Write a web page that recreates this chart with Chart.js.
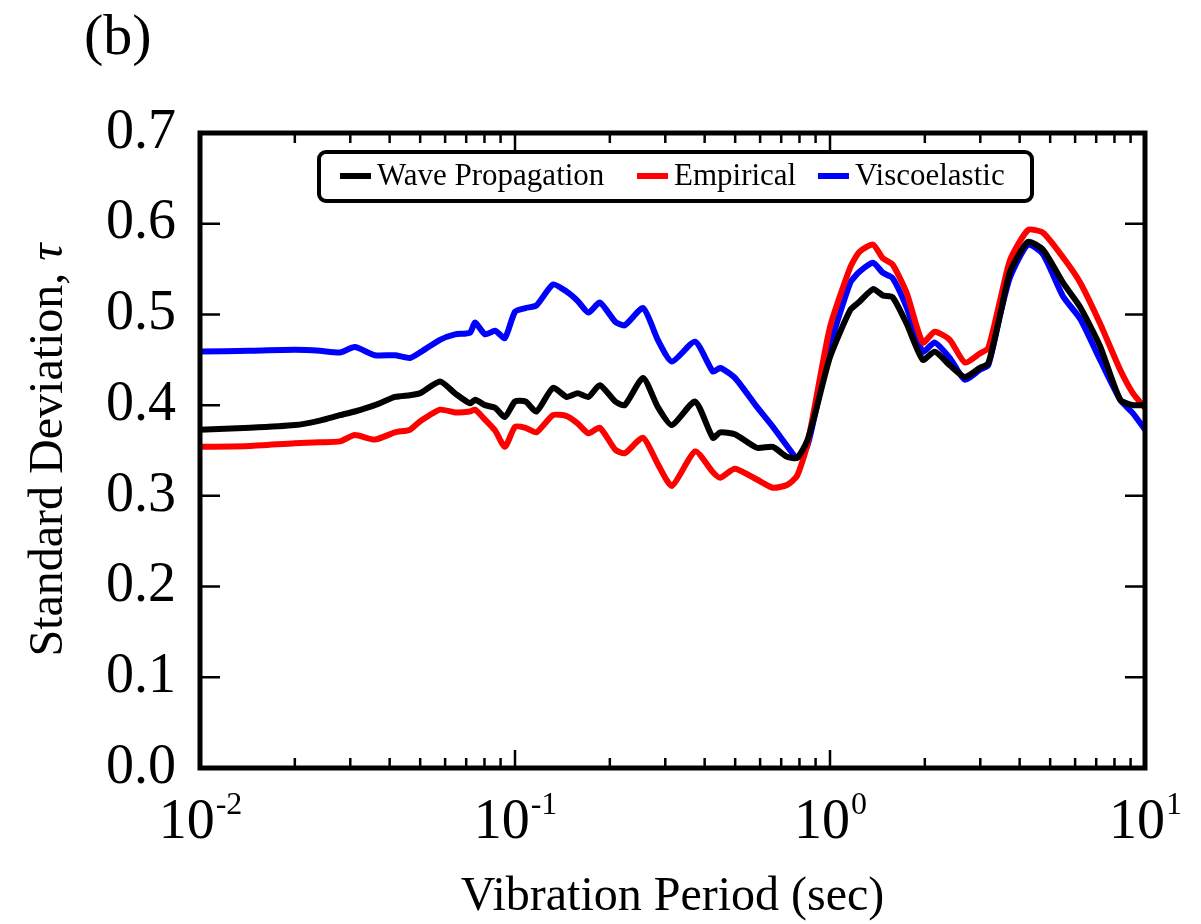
<!DOCTYPE html>
<html>
<head>
<meta charset="utf-8">
<script src="https://cdn.jsdelivr.net/npm/chart.js@4/dist/chart.umd.min.js"></script>
<style>
  body { margin: 0; background: #ffffff; }
</style>
</head>
<body>
<canvas id="grafico" width="1201" height="924"></canvas>
<script>
// periodos (sec) y desviaciones
const periodos = [
  0.01, 0.0144, 0.02, 0.024, 0.0278, 0.031, 0.0359, 0.0416, 0.0464, 0.0499,
  0.0578, 0.0645, 0.072, 0.0747, 0.0803, 0.0865, 0.0929, 0.1, 0.108, 0.117,
  0.132, 0.146, 0.158, 0.171, 0.186, 0.208, 0.223, 0.255, 0.284, 0.315,
  0.373, 0.425, 0.448, 0.499, 0.586, 0.659, 0.73, 0.786, 0.845, 0.896,
  1.0, 1.16, 1.24, 1.37, 1.47, 1.58, 1.75, 1.97, 2.15, 2.4,
  2.68, 2.99, 3.18, 3.47, 3.73, 4.25, 4.75, 5.49, 6.23, 7.2,
  8.34, 9.16, 10.0,
];
const wavePropagation = [
  0.373, 0.375, 0.378, 0.383, 0.389, 0.393, 0.4, 0.409, 0.411, 0.413,
  0.426, 0.413, 0.402, 0.406, 0.4, 0.397, 0.387, 0.404, 0.404, 0.393,
  0.419, 0.409, 0.413, 0.409, 0.422, 0.404, 0.4, 0.43, 0.398, 0.378,
  0.404, 0.364, 0.37, 0.368, 0.353, 0.354, 0.343, 0.342, 0.36, 0.39,
  0.453, 0.505, 0.514, 0.528, 0.521, 0.519, 0.49, 0.45, 0.459, 0.444,
  0.431, 0.441, 0.446, 0.5, 0.547, 0.58, 0.571, 0.535, 0.508, 0.465,
  0.406, 0.4, 0.4,
];
const empirical = [
  0.354, 0.355, 0.358, 0.359, 0.36, 0.367, 0.362, 0.37, 0.373, 0.382,
  0.395, 0.392, 0.393, 0.395, 0.384, 0.372, 0.354, 0.376, 0.375, 0.37,
  0.389, 0.388, 0.38, 0.369, 0.375, 0.351, 0.347, 0.364, 0.335, 0.311,
  0.349, 0.326, 0.32, 0.33, 0.318, 0.309, 0.312, 0.322, 0.355, 0.4,
  0.486, 0.552, 0.569, 0.577, 0.562, 0.555, 0.524, 0.469, 0.481, 0.472,
  0.447, 0.457, 0.463, 0.516, 0.56, 0.593, 0.59, 0.563, 0.535, 0.49,
  0.439, 0.413, 0.397,
];
const viscoelastic = [
  0.459, 0.46, 0.461, 0.46, 0.458, 0.464, 0.455, 0.455, 0.452, 0.458,
  0.472, 0.478, 0.48, 0.491, 0.478, 0.482, 0.474, 0.503, 0.507, 0.51,
  0.533, 0.525, 0.515, 0.502, 0.513, 0.492, 0.488, 0.507, 0.472, 0.448,
  0.47, 0.437, 0.441, 0.43, 0.398, 0.376, 0.355, 0.342, 0.354, 0.39,
  0.465, 0.535, 0.547, 0.557, 0.546, 0.54, 0.508, 0.459, 0.469, 0.452,
  0.428, 0.439, 0.444, 0.5, 0.541, 0.577, 0.566, 0.52, 0.495, 0.45,
  0.406, 0.391, 0.373,
];
const yTicks = [0, 0.1, 0.2, 0.3, 0.4, 0.5, 0.6, 0.7];
const decadas = [0.01, 0.1, 1, 10];
const exponentes = ["-2", "-1", "0", "1"];

const serif = "'Liberation Serif', 'Times New Roman', serif";
const puntos = (vals) => periodos.map((p, i) => ({ x: p, y: vals[i] }));

// marco, ticks hacia adentro, etiquetas y leyenda
const marco = {
  id: "marco",
  afterDatasetsDraw(chart) {
    const ctx = chart.ctx;
    const { left, right, top, bottom } = chart.chartArea;
    const xs = chart.scales.x;
    const ys = chart.scales.y;
    ctx.save();
    ctx.strokeStyle = "#000000";
    ctx.fillStyle = "#000000";

    // ticks
    ctx.lineWidth = 2.5;
    ctx.beginPath();
    for (const v of yTicks) {
      const py = ys.getPixelForValue(v);
      ctx.moveTo(left, py); ctx.lineTo(left + 20, py);
      ctx.moveTo(right, py); ctx.lineTo(right - 20, py);
    }
    for (let d = 0; d < decadas.length; d++) {
      const px = xs.getPixelForValue(decadas[d]);
      ctx.moveTo(px, bottom); ctx.lineTo(px, bottom - 18);
      ctx.moveTo(px, top); ctx.lineTo(px, top + 18);
      if (d < decadas.length - 1) {
        for (let k = 2; k <= 9; k++) {
          const pm = xs.getPixelForValue(decadas[d] * k);
          ctx.moveTo(pm, bottom); ctx.lineTo(pm, bottom - 10);
          ctx.moveTo(pm, top); ctx.lineTo(pm, top + 10);
        }
      }
    }
    ctx.stroke();

    // marco
    ctx.lineWidth = 5;
    ctx.strokeRect(left, top, right - left, bottom - top);

    // etiquetas eje x: 10^n
    for (let d = 0; d < decadas.length; d++) {
      const px = xs.getPixelForValue(decadas[d]);
      ctx.font = "56px " + serif;
      const wb = ctx.measureText("10").width;
      ctx.font = "32px " + serif;
      const we = ctx.measureText(exponentes[d]).width;
      const x0 = px - (wb + we) / 2;
      ctx.textBaseline = "alphabetic";
      ctx.textAlign = "left";
      ctx.font = "56px " + serif;
      ctx.fillText("10", x0, 838);
      ctx.font = "32px " + serif;
      ctx.fillText(exponentes[d], x0 + wb + 1, 814);
    }

    // titulo eje x
    ctx.font = "48px " + serif;
    ctx.textAlign = "center";
    ctx.fillText("Vibration Period (sec)", (left + right) / 2, 910);

    // titulo eje y
    ctx.save();
    ctx.translate(62, 450);
    ctx.rotate(-Math.PI / 2);
    ctx.font = "48px " + serif;
    const t1 = "Standard Deviation, ";
    const w1 = ctx.measureText(t1).width;
    ctx.font = "italic 48px " + serif;
    const w2 = ctx.measureText("τ").width;
    ctx.textAlign = "left";
    ctx.font = "48px " + serif;
    ctx.fillText(t1, -(w1 + w2) / 2, 0);
    ctx.font = "italic 48px " + serif;
    ctx.fillText("τ", -(w1 + w2) / 2 + w1, 0);
    ctx.restore();

    // (b)
    ctx.font = "58px " + serif;
    ctx.textAlign = "left";
    ctx.fillText("(b)", 84, 54);

    // leyenda
    ctx.lineWidth = 4;
    ctx.beginPath();
    ctx.roundRect(319, 152, 713, 49, 7);
    ctx.stroke();
    const posLeyenda = [340, 637, 818];
    ctx.font = "31px " + serif;
    ctx.textBaseline = "middle";
    chart.data.datasets.forEach((ds, i) => {
      const lx = posLeyenda[i];
      ctx.strokeStyle = ds.borderColor;
      ctx.lineWidth = 6;
      ctx.beginPath();
      ctx.moveTo(lx, 176); ctx.lineTo(lx + 31, 176);
      ctx.stroke();
      ctx.fillStyle = "#000000";
      ctx.fillText(ds.label, lx + 37, 177);
    });
    ctx.restore();
  },
};

const grafico = document.getElementById("grafico").getContext("2d");
const myChart = new Chart(grafico, {
  type: "line",
  data: {
    datasets: [
      {
        label: "Wave Propagation",
        data: puntos(wavePropagation),
        borderColor: "#000000",
        borderWidth: 6,
        pointRadius: 0,
        tension: 0.2,
      },
      {
        label: "Empirical",
        data: puntos(empirical),
        borderColor: "#ff0000",
        borderWidth: 6,
        pointRadius: 0,
        tension: 0.2,
      },
      {
        label: "Viscoelastic",
        data: puntos(viscoelastic),
        borderColor: "#0000ff",
        borderWidth: 6,
        pointRadius: 0,
        tension: 0.2,
      },
    ],
  },
  options: {
    responsive: false,
    animation: false,
    layout: { padding: { top: 133, right: 56, left: 0, bottom: 0 } },
    scales: {
      x: {
        type: "logarithmic",
        min: 0.01,
        max: 10,
        ticks: { display: false },
        grid: { display: false, drawTicks: false },
        border: { display: false },
        afterFit: (scale) => { scale.height = 156; },
      },
      y: {
        min: 0,
        max: 0.7,
        afterBuildTicks: (scale) => { scale.ticks = yTicks.map((v) => ({ value: v })); },
        ticks: {
          color: "#000000",
          padding: 24,
          font: { family: "Liberation Serif", size: 56 },
          callback: (v) => Number(v).toFixed(1),
        },
        grid: { display: false, drawTicks: false },
        border: { display: false },
        afterFit: (scale) => { scale.width = 200; },
      },
    },
    plugins: {
      legend: { display: false },
      tooltip: { enabled: false },
    },
  },
  plugins: [marco],
});
</script>
</body>
</html>
